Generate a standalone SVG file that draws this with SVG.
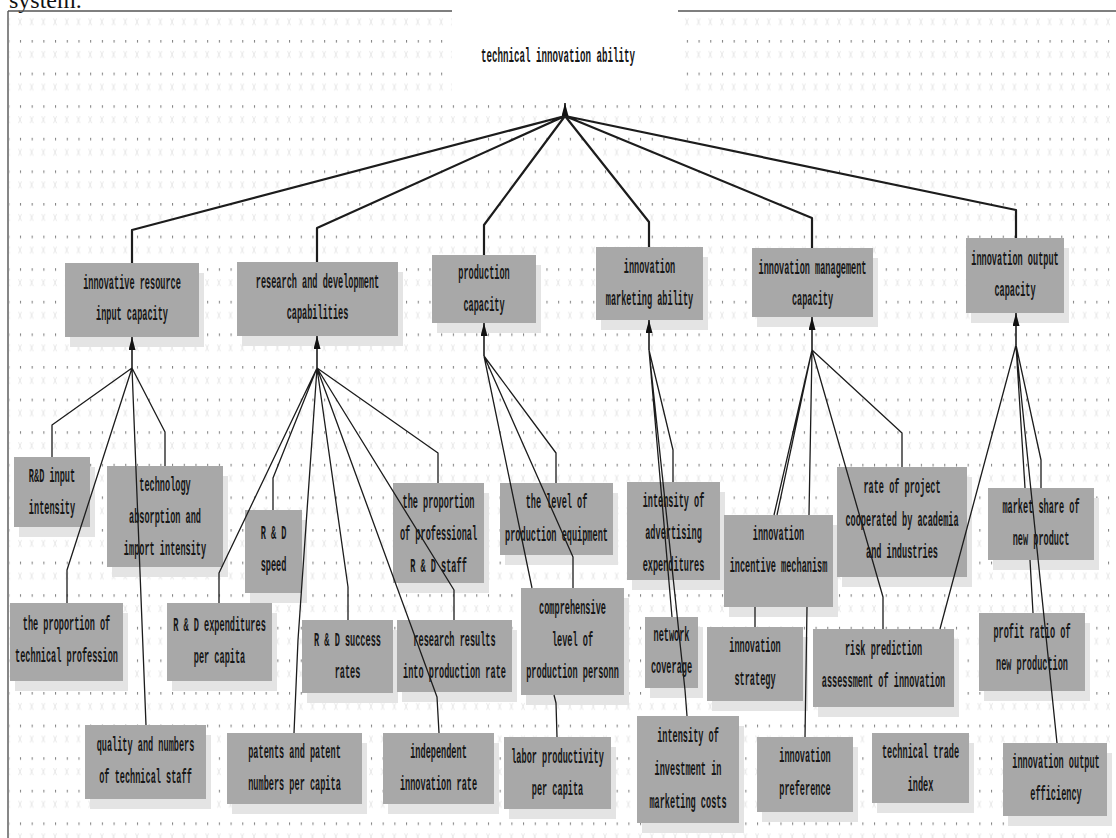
<svg xmlns="http://www.w3.org/2000/svg" width="1116" height="838" viewBox="0 0 1116 838">
<style>
.box{fill:#a8a8a8}
.sh{fill:#e4e4e4}
.t{font-family:"Liberation Mono","DejaVu Sans Mono",monospace;font-size:20px;font-weight:bold;fill:#161616;text-anchor:middle;dominant-baseline:central}
.c{fill:none;stroke:#1c1c1c;stroke-width:1.3;stroke-linejoin:round}
.r{stroke-width:2.2}
.a{stroke-width:1.6}
.border{stroke:#555;stroke-width:1.4;fill:none}
</style>
<defs>
<pattern id="dots" width="11.7" height="32.6" patternUnits="userSpaceOnUse" x="6.3" y="40">
<rect x="2" y="0" width="1" height="2.6" fill="#7a7a7a"/>
<path d="M0.5,11 L3.5,18 M3.5,11 L0.5,18" stroke="#e3e3e3" stroke-width="0.8"/>
</pattern>
<marker id="arr" markerUnits="userSpaceOnUse" markerWidth="13" markerHeight="7" viewBox="0 0 13 7" refX="13" refY="3.5" orient="auto">
<path d="M0,0 L13,3.5 L0,7 z" fill="#111"/>
</marker>
</defs>
<rect width="1116" height="838" fill="#fff"/>
<rect x="9" y="12" width="1107" height="826" fill="url(#dots)"/>
<rect x="452" y="0" width="226" height="96" fill="#fff"/>
<text x="9" y="8" font-family="Liberation Serif, serif" font-size="24" fill="#111">system.</text>
<path class="border" d="M8,11 L452,11 M678,11 L1116,11 M8,11 L8,838"/>

<g id="root">
<g transform="translate(558 0) scale(0.458 1)"><text class="t" x="0" y="57">technical innovation ability</text></g>
</g>

<g id="c1"><rect class="sh" x="70" y="273" width="134" height="74"/><rect class="box" x="65" y="263" width="134" height="74"/>
<g transform="translate(132 0) scale(0.429 1)"><text class="t" x="0" y="284">innovative resource</text><text class="t" x="0" y="315">input capacity</text></g></g>
<g id="c2"><rect class="sh" x="242" y="272" width="161" height="74"/><rect class="box" x="237" y="262" width="161" height="74"/>
<g transform="translate(317.5 0) scale(0.429 1)"><text class="t" x="0" y="283">research and development</text><text class="t" x="0" y="314">capabilities</text></g></g>
<g id="c3"><rect class="sh" x="437" y="265" width="104" height="68"/><rect class="box" x="432" y="255" width="104" height="68"/>
<g transform="translate(484 0) scale(0.429 1)"><text class="t" x="0" y="274">production</text><text class="t" x="0" y="306">capacity</text></g></g>
<g id="c4"><rect class="sh" x="601" y="257" width="107" height="73"/><rect class="box" x="596" y="247" width="107" height="73"/>
<g transform="translate(649.5 0) scale(0.429 1)"><text class="t" x="0" y="268">innovation</text><text class="t" x="0" y="300">marketing ability</text></g></g>
<g id="c5"><rect class="sh" x="757" y="258" width="121" height="69"/><rect class="box" x="752" y="248" width="121" height="69"/>
<g transform="translate(812.5 0) scale(0.429 1)"><text class="t" x="0" y="269">innovation management</text><text class="t" x="0" y="300">capacity</text></g></g>
<g id="c6"><rect class="sh" x="971" y="248" width="98" height="75"/><rect class="box" x="966" y="238" width="98" height="75"/>
<g transform="translate(1015 0) scale(0.429 1)"><text class="t" x="0" y="260">innovation output</text><text class="t" x="0" y="291">capacity</text></g></g>

<g id="l-rd-input"><rect class="sh" x="19" y="467" width="76" height="70"/><rect class="box" x="14" y="457" width="76" height="70"/>
<g transform="translate(52 0) scale(0.429 1)"><text class="t" x="0" y="477">R&amp;D input</text><text class="t" x="0" y="509">intensity</text></g></g>
<g id="l-technology"><rect class="sh" x="112" y="476" width="116" height="101"/><rect class="box" x="107" y="466" width="116" height="101"/>
<g transform="translate(165 0) scale(0.429 1)"><text class="t" x="0" y="486">technology</text><text class="t" x="0" y="518">absorption and</text><text class="t" x="0" y="550">import intensity</text></g></g>
<g id="l-prop-tech"><rect class="sh" x="15" y="613" width="113" height="78"/><rect class="box" x="10" y="603" width="113" height="78"/>
<g transform="translate(66.5 0) scale(0.429 1)"><text class="t" x="0" y="625">the proportion of</text><text class="t" x="0" y="657">technical profession</text></g></g>
<g id="l-quality"><rect class="sh" x="90" y="735" width="121" height="74"/><rect class="box" x="85" y="725" width="121" height="74"/>
<g transform="translate(145.5 0) scale(0.429 1)"><text class="t" x="0" y="746">quality and numbers</text><text class="t" x="0" y="778">of technical staff</text></g></g>
<g id="l-speed"><rect class="sh" x="250" y="520" width="57" height="83"/><rect class="box" x="245" y="510" width="57" height="83"/>
<g transform="translate(273.5 0) scale(0.429 1)"><text class="t" x="0" y="534">R &amp; D</text><text class="t" x="0" y="566">speed</text></g></g>
<g id="l-expend"><rect class="sh" x="172" y="613" width="105" height="78"/><rect class="box" x="167" y="603" width="105" height="78"/>
<g transform="translate(219.5 0) scale(0.429 1)"><text class="t" x="0" y="626">R &amp; D expenditures</text><text class="t" x="0" y="658">per capita</text></g></g>
<g id="l-success"><rect class="sh" x="307" y="630" width="91" height="73"/><rect class="box" x="302" y="620" width="91" height="73"/>
<g transform="translate(347.5 0) scale(0.429 1)"><text class="t" x="0" y="641">R &amp; D success</text><text class="t" x="0" y="673">rates</text></g></g>
<g id="l-patents"><rect class="sh" x="232" y="743" width="135" height="71"/><rect class="box" x="227" y="733" width="135" height="71"/>
<g transform="translate(294.5 0) scale(0.429 1)"><text class="t" x="0" y="753">patents and patent</text><text class="t" x="0" y="785">numbers per capita</text></g></g>
<g id="l-prop-prof"><rect class="sh" x="398" y="493" width="91" height="100"/><rect class="box" x="393" y="483" width="91" height="100"/>
<g transform="translate(438.5 0) scale(0.429 1)"><text class="t" x="0" y="503">the proportion</text><text class="t" x="0" y="535">of professional</text><text class="t" x="0" y="567">R &amp; D staff</text></g></g>
<g id="l-results"><rect class="sh" x="402" y="630" width="115" height="72"/><rect class="box" x="397" y="620" width="115" height="72"/>
<g transform="translate(454.5 0) scale(0.429 1)"><text class="t" x="0" y="641">research results</text><text class="t" x="0" y="673">into production rate</text></g></g>
<g id="l-independent"><rect class="sh" x="388" y="743" width="111" height="71"/><rect class="box" x="383" y="733" width="111" height="71"/>
<g transform="translate(438.5 0) scale(0.429 1)"><text class="t" x="0" y="753">independent</text><text class="t" x="0" y="785">innovation rate</text></g></g>
<g id="l-level"><rect class="sh" x="505" y="493" width="113" height="72"/><rect class="box" x="500" y="483" width="113" height="72"/>
<g transform="translate(556.5 0) scale(0.429 1)"><text class="t" x="0" y="503">the level of</text><text class="t" x="0" y="536">production equipment</text></g></g>
<g id="l-comprehensive"><rect class="sh" x="526" y="598" width="103" height="107"/><rect class="box" x="521" y="588" width="103" height="107"/>
<g transform="translate(572.5 0) scale(0.429 1)"><text class="t" x="0" y="609">comprehensive</text><text class="t" x="0" y="641">level of</text><text class="t" x="0" y="673">production personn</text></g></g>
<g id="l-labor"><rect class="sh" x="509" y="747" width="107" height="72"/><rect class="box" x="504" y="737" width="107" height="72"/>
<g transform="translate(557.5 0) scale(0.429 1)"><text class="t" x="0" y="758">labor productivity</text><text class="t" x="0" y="790">per capita</text></g></g>
<g id="l-advertising"><rect class="sh" x="632" y="492" width="93" height="98"/><rect class="box" x="627" y="482" width="93" height="98"/>
<g transform="translate(673.5 0) scale(0.429 1)"><text class="t" x="0" y="502">intensity of</text><text class="t" x="0" y="534">advertising</text><text class="t" x="0" y="566">expenditures</text></g></g>
<g id="l-network"><rect class="sh" x="650" y="627" width="53" height="71"/><rect class="box" x="645" y="617" width="53" height="71"/>
<g transform="translate(671.5 0) scale(0.429 1)"><text class="t" x="0" y="636">network</text><text class="t" x="0" y="668">coverage</text></g></g>
<g id="l-investment"><rect class="sh" x="642" y="726" width="102" height="107"/><rect class="box" x="637" y="716" width="102" height="107"/>
<g transform="translate(688 0) scale(0.429 1)"><text class="t" x="0" y="737">intensity of</text><text class="t" x="0" y="770">investment in</text><text class="t" x="0" y="803">marketing costs</text></g></g>
<g id="l-incentive"><rect class="sh" x="729" y="525" width="109" height="92"/><rect class="box" x="724" y="515" width="109" height="92"/>
<g transform="translate(778.5 0) scale(0.429 1)"><text class="t" x="0" y="535">innovation</text><text class="t" x="0" y="567">incentive mechanism</text></g></g>
<g id="l-rate"><rect class="sh" x="842" y="477" width="130" height="110"/><rect class="box" x="837" y="467" width="130" height="110"/>
<g transform="translate(902 0) scale(0.429 1)"><text class="t" x="0" y="488">rate of project</text><text class="t" x="0" y="521">cooperated by academia</text><text class="t" x="0" y="553">and industries</text></g></g>
<g id="l-strategy"><rect class="sh" x="712" y="637" width="96" height="74"/><rect class="box" x="707" y="627" width="96" height="74"/>
<g transform="translate(755 0) scale(0.429 1)"><text class="t" x="0" y="647">innovation</text><text class="t" x="0" y="680">strategy</text></g></g>
<g id="l-risk"><rect class="sh" x="818" y="639" width="141" height="78"/><rect class="box" x="813" y="629" width="141" height="78"/>
<g transform="translate(883.5 0) scale(0.429 1)"><text class="t" x="0" y="650">risk prediction</text><text class="t" x="0" y="682">assessment of innovation</text></g></g>
<g id="l-preference"><rect class="sh" x="762" y="747" width="96" height="75"/><rect class="box" x="757" y="737" width="96" height="75"/>
<g transform="translate(805 0) scale(0.429 1)"><text class="t" x="0" y="757">innovation</text><text class="t" x="0" y="790">preference</text></g></g>
<g id="l-trade"><rect class="sh" x="877" y="743" width="97" height="70"/><rect class="box" x="872" y="733" width="97" height="70"/>
<g transform="translate(920.5 0) scale(0.429 1)"><text class="t" x="0" y="753">technical trade</text><text class="t" x="0" y="786">index</text></g></g>
<g id="l-market"><rect class="sh" x="993" y="498" width="106" height="72"/><rect class="box" x="988" y="488" width="106" height="72"/>
<g transform="translate(1041 0) scale(0.429 1)"><text class="t" x="0" y="508">market share of</text><text class="t" x="0" y="540">new product</text></g></g>
<g id="l-profit"><rect class="sh" x="984" y="623" width="106" height="78"/><rect class="box" x="979" y="613" width="106" height="78"/>
<g transform="translate(1032 0) scale(0.429 1)"><text class="t" x="0" y="633">profit ratio of</text><text class="t" x="0" y="665">new production</text></g></g>
<g id="l-efficiency"><rect class="sh" x="1008" y="753" width="104" height="73"/><rect class="box" x="1003" y="743" width="104" height="73"/>
<g transform="translate(1056 0) scale(0.429 1)"><text class="t" x="0" y="763">innovation output</text><text class="t" x="0" y="795">efficiency</text></g></g>

<g id="connectors">
<path class="c r" d="M565,116 L132,230 L132,263 M565,116 L317,228 L317,262 M565,116 L484,225 L484,255 M565,116 L649,222 L649,247 M565,116 L812,218 L812,248 M565,116 L1016,210 L1016,238"/>
<path class="c a" d="M565,116 L565,103" marker-end="url(#arr)"/>
<path class="c a" d="M132,368 L132,337" marker-end="url(#arr)"/>
<path class="c a" d="M317,368 L317,336" marker-end="url(#arr)"/>
<path class="c a" d="M484,356 L484,323" marker-end="url(#arr)"/>
<path class="c a" d="M649,350 L649,320" marker-end="url(#arr)"/>
<path class="c a" d="M812,350 L812,317" marker-end="url(#arr)"/>
<path class="c a" d="M1016,345 L1016,313" marker-end="url(#arr)"/>
<path class="c" d="M132,368 L52,425 L52,457 M132,368 L165,432 L165,466 M132,368 L67,570 L67,603 M132,368 L146,725"/>
<path class="c" d="M317,368 L273,478 L273,510 M317,368 L219,573 L219,603 M317,368 L348,587 L348,620 M317,368 L298,640 L294,733 M317,368 L438,453 L438,483 M317,368 L454,590 L454,620 M317,368 L437,697 L439,733"/>
<path class="c" d="M484,356 L556,453 L556,483 M484,356 L573,557 L573,588 M484,356 L532,588 M554,695 L556,703 L557,737"/>
<path class="c" d="M649,350 L673,450 L673,482 M649,350 L672,617 M649,350 L685,690 L687,716"/>
<path class="c" d="M812,350 L777,515 M812,350 L774,515 M755,607 L755,627 M812,350 L809,515 M807,607 L805,737 M812,350 L902,433 L902,467 M812,350 L883,597 L883,629"/>
<path class="c" d="M1016,345 L1041,460 L1041,488 M1016,345 L1025,488 M1030,560 L1033,613 M1016,345 L1057,743 M1016,345 L940,629"/>
</g>
</svg>
